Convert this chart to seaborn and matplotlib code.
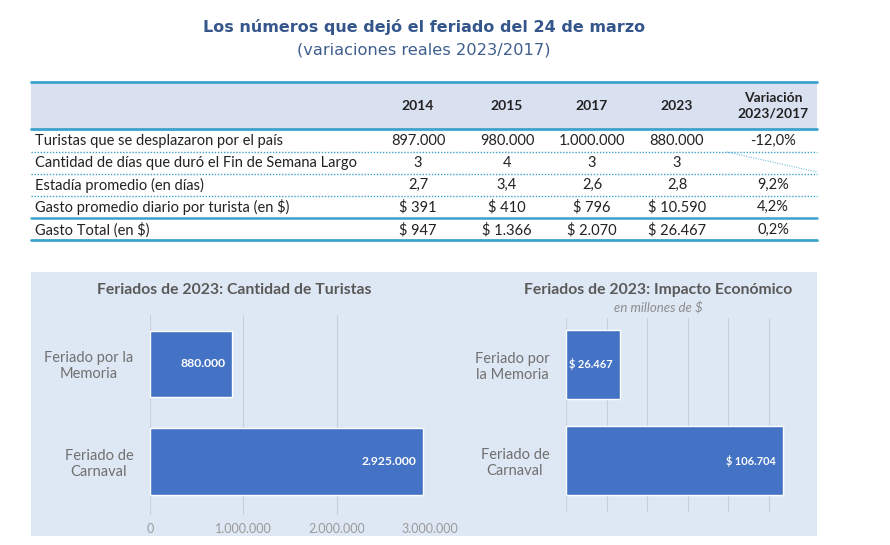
import matplotlib
matplotlib.use("Agg")
import matplotlib.pyplot as plt
import seaborn as sns
import pandas as pd
from matplotlib.patches import Rectangle
from matplotlib.ticker import FuncFormatter

sns.set_theme(style="white")
plt.rcParams['font.family'] = ['Lato', 'DejaVu Sans']

# ---- datos de la tabla
anios = ['2014', '2015', '2017', '2023']
indicadores = ['Turistas que se desplazaron por el país',
               'Cantidad de días que duró el Fin de Semana Largo',
               'Estadía promedio (en días)',
               'Gasto promedio diario por turista (en $)',
               'Gasto Total (en $)']
v2014 = ['897.000', '3', '2,7', '$ 391', '$ 947']
v2015 = ['980.000', '4', '3,4', '$ 410', '$ 1.366']
v2017 = ['1.000.000', '3', '2,6', '$ 796', '$ 2.070']
v2023 = ['880.000', '3', '2,8', '$ 10.590', '$ 26.467']
variacion = ['-12,0%', '', '9,2%', '4,2%', '0,2%']

# ---- datos de los graficos
feriados_izq = ['Feriado por la\nMemoria', 'Feriado de\nCarnaval']
feriados_der = ['Feriado por\nla Memoria', 'Feriado de\nCarnaval']
turistas = [880000, 2925000]
impacto = [26467, 106704]

BLUE = '#4472c4'
CYAN = '#3ea3cc'
TITLE_C = '#34568b'


def puntos(x):
    return f"{x:,.0f}".replace(",", ".")


fig = plt.figure(figsize=(8.9, 5.45), dpi=100)
fig.patch.set_facecolor('white')

# capa de fondo en pixeles
bg = fig.add_axes([0, 0, 1, 1])
bg.set_xlim(0, 890)
bg.set_ylim(545, 0)
bg.axis('off')

fig.text(424 / 890, 1 - 27 / 545, 'Los números que dejó el feriado del 24 de marzo',
         ha='center', va='center', fontsize=11.5, fontweight='bold',
         color=TITLE_C, family='DejaVu Sans')
fig.text(424 / 890, 1 - 50 / 545, '(variaciones reales 2023/2017)',
         ha='center', va='center', fontsize=11.7, color='#3f5f8f', family='DejaVu Sans')

# tabla
x0, x1 = 31, 817
bg.add_patch(Rectangle((x0, 83), x1 - x0, 46, facecolor='#d9e0f0', edgecolor='none'))
bg.plot([x0, x1], [82, 82], color=CYAN, lw=2)
bg.plot([x0, x1], [129, 129], color=CYAN, lw=2)
for yy in [152, 174, 196]:
    bg.plot([x0, x1], [yy, yy], color=CYAN, lw=1, ls=(0, (1, 1.2)))
bg.plot([x0, x1], [218, 218], color=CYAN, lw=1.8)
bg.plot([x0, x1], [240, 240], color=CYAN, lw=2)
bg.plot([727, 817], [152, 172], color=CYAN, lw=0.8, ls=(0, (1, 1.2)), alpha=0.7)

col_x = [418, 507, 592, 677]
fila_y = [141, 163, 185, 207, 230]
for cx, a in zip(col_x, anios):
    bg.text(cx, 106, a, ha='center', va='center', fontsize=10, fontweight='bold', color='#222222')
bg.text(773, 106, 'Variación\n2023/2017', ha='center', va='center', fontsize=10,
        fontweight='bold', color='#222222', linespacing=1.35)
for i, y in enumerate(fila_y):
    bg.text(35, y, indicadores[i], ha='left', va='center', fontsize=10.5, color='#222222')
    for cx, col in zip(col_x, [v2014, v2015, v2017, v2023]):
        bg.text(cx, y, col[i], ha='center', va='center', fontsize=10.5, color='#222222')
    bg.text(773, y, variacion[i], ha='center', va='center', fontsize=10.5, color='#222222')

# panel de graficos
bg.add_patch(Rectangle((31, 272), 786, 264, facecolor='#dee8f4', edgecolor='none'))

# grafico izquierdo
ax1 = fig.add_axes([150 / 890, 1 - 515 / 545, 280 / 890, 200 / 545])
df1 = pd.DataFrame({'feriado': feriados_izq, 'turistas': turistas})
sns.barplot(data=df1, x='turistas', y='feriado', orient='h', color=BLUE,
            saturation=1, width=0.68, ax=ax1)
ax1.set_xlim(0, 3000000)
ax1.set_ylim(1.55, -0.5)
ax1.set_xticks([0, 1000000, 2000000, 3000000])
ax1.xaxis.set_major_formatter(FuncFormatter(lambda v, p: puntos(v)))
lab1 = ax1.bar_label(ax1.containers[0], labels=[puntos(v) for v in turistas],
                     padding=-5, color='white', fontweight='bold', fontsize=8.7)
for t in lab1:
    t.set_ha('right')
fig.text(234 / 890, 1 - 290 / 545, 'Feriados de 2023: Cantidad de Turistas', ha='center',
         va='center', color='#595959', fontsize=11.3, fontweight='bold')

# grafico derecho
ax2 = fig.add_axes([566 / 890, 1 - 512 / 545, 233.5 / 890, 194 / 545])
df2 = pd.DataFrame({'feriado': feriados_der, 'impacto': impacto})
sns.barplot(data=df2, x='impacto', y='feriado', orient='h', color=BLUE,
            saturation=1, width=0.72, ax=ax2)
ax2.set_xlim(0, 115000)
ax2.set_ylim(1.536, -0.484)
ax2.set_xticks([0, 20000, 40000, 60000, 80000, 100000])
ax2.set_xticklabels([])
lab2 = ax2.bar_label(ax2.containers[0], labels=['$ ' + puntos(v) for v in impacto],
                     padding=-5, color='white', fontweight='bold', fontsize=7.9)
for t in lab2:
    t.set_ha('right')
fig.text(658 / 890, 1 - 290 / 545, 'Feriados de 2023: Impacto Económico', ha='center',
         va='center', color='#595959', fontsize=11.3, fontweight='bold')
fig.text(658 / 890, 1 - 308 / 545, 'en millones de $', ha='center', va='center',
         color='#8c8c8c', fontsize=9.5, style='italic')

for ax in (ax1, ax2):
    ax.set_facecolor('none')
    ax.set_xlabel('')
    ax.set_ylabel('')
    ax.grid(axis='x', color='#c9cfd8', lw=0.8)
    ax.grid(axis='y', visible=False)
    ax.set_axisbelow(True)
    for s in ax.spines.values():
        s.set_visible(False)
    ax.tick_params(axis='x', length=0, labelsize=9, labelcolor='#9a9a9a', pad=6)
    ax.tick_params(axis='y', length=0, labelsize=10.5, labelcolor='#707070', pad=12)
    for t in ax.get_yticklabels():
        t.set_multialignment('center')

fig.savefig('out.png', dpi=100, facecolor='white')
